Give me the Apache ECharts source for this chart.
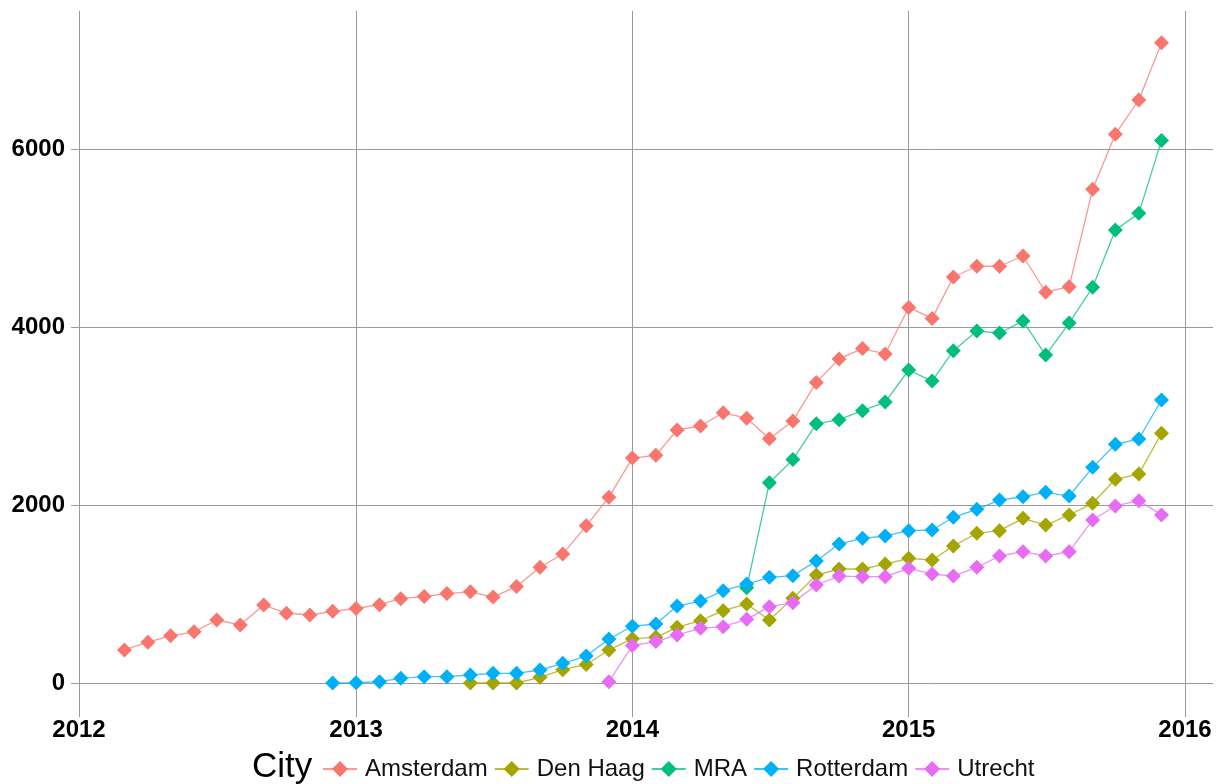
<!DOCTYPE html>
<html>
<head>
    <meta charset="utf-8">
    <title>City</title>
    <script src="https://cdn.jsdelivr.net/npm/echarts@6/dist/echarts.min.js"></script>
    <style>
        html, body { margin: 0; padding: 0; background: #fff; }
    </style>
</head>
<body>
    <div id="chart" style="width: 1221px;height: 784px;"></div>
</body>

<script>
    var months = [
        '2012-03-01','2012-04-01','2012-05-01','2012-06-01','2012-07-01','2012-08-01',
        '2012-09-01','2012-10-01','2012-11-01','2012-12-01',
        '2013-01-01','2013-02-01','2013-03-01','2013-04-01','2013-05-01','2013-06-01',
        '2013-07-01','2013-08-01','2013-09-01','2013-10-01','2013-11-01','2013-12-01',
        '2014-01-01','2014-02-01','2014-03-01','2014-04-01','2014-05-01','2014-06-01',
        '2014-07-01','2014-08-01','2014-09-01','2014-10-01','2014-11-01','2014-12-01',
        '2015-01-01','2015-02-01','2015-03-01','2015-04-01','2015-05-01','2015-06-01',
        '2015-07-01','2015-08-01','2015-09-01','2015-10-01','2015-11-01','2015-12-01'
    ];

    var amsterdam = [371, 458, 530, 575, 708, 652, 876, 785, 764, 805,
        837, 880, 948, 972, 1005, 1025, 965, 1085, 1300, 1449, 1766, 2088,
        2527, 2558, 2843, 2888, 3036, 2976, 2745, 2945, 3378, 3642, 3758, 3697,
        4220, 4097, 4562, 4683, 4683, 4798, 4391, 4453, 5549, 6167, 6551, 7193];

    var denHaag = [null, null, null, null, null, null, null, null, null, null,
        null, null, null, null, null, 0, 0, 0, 64, 150, 208, 371,
        498, 513, 626, 700, 813, 888, 708, 951, 1213, 1281, 1281, 1337,
        1401, 1382, 1539, 1682, 1712, 1850, 1775, 1888, 2019, 2289, 2348, 2805];

    var mra = [null, null, null, null, null, null, null, null, null, null,
        null, null, null, null, null, null, null, null, null, null, null, null,
        null, null, null, null, null, 1070, 2251, 2510, 2912, 2959, 3060, 3157,
        3517, 3393, 3734, 3955, 3933, 4067, 3685, 4045, 4446, 5090, 5277, 6097];

    var rotterdam = [null, null, null, null, null, null, null, null, null, 0,
        3, 15, 52, 71, 71, 90, 109, 109, 146, 221, 303, 495,
        638, 663, 865, 921, 1037, 1112, 1187, 1206, 1371, 1562, 1626, 1652,
        1712, 1719, 1862, 1951, 2056, 2093, 2142, 2101, 2423, 2682, 2742, 3180];

    var utrecht = [null, null, null, null, null, null, null, null, null, null,
        null, null, null, null, null, null, null, null, null, null, null, 15,
        420, 465, 540, 614, 633, 715, 858, 903, 1101, 1202, 1195, 1195,
        1289, 1225, 1202, 1300, 1427, 1476, 1427, 1476, 1832, 1989, 2049, 1888];

    var cities = ['Amsterdam', 'Den Haag', 'MRA', 'Rotterdam', 'Utrecht'];
    var cityValues = [amsterdam, denHaag, mra, rotterdam, utrecht];
    var cityColors = ['#F8766D', '#A3A500', '#00BF7D', '#00B0F6', '#E76BF3'];

    function pairs(values) {
        var out = [];
        values.forEach(function (v, i) {
            if (v !== null) out.push([months[i], v]);
        });
        return out;
    }

    var series = cities.map(function (name, i) {
        return {
            name: name,
            type: 'line',
            data: pairs(cityValues[i]),
            symbol: 'diamond',
            symbolSize: 15,
            color: cityColors[i],
            lineStyle: { width: 1.3, opacity: 0.75 },
            itemStyle: { opacity: 1 },
            emphasis: { disabled: true },
            clip: false
        };
    });

    var gridColor = '#9a9a9a';

    var option = {
        animation: false,
        textStyle: { fontFamily: 'Liberation Sans' },
        title: {
            text: 'City',
            left: 247,
            top: 745,
            textStyle: { fontSize: 35, fontWeight: 'normal', color: '#000', fontFamily: 'Liberation Sans' }
        },
        legend: {
            data: cities,
            left: 317,
            top: 752,
            itemWidth: 34,
            itemHeight: 20,
            itemGap: 6,
            textStyle: { fontSize: 24, color: '#111', fontFamily: 'Liberation Sans', padding: [0, 0, 0, 3] }
        },
        grid: {
            left: 79,
            right: 8,
            top: 11,
            bottom: 101,
            containLabel: false
        },
        xAxis: {
            type: 'time',
            min: '2012-01-01',
            max: '2016-02-07',
            splitNumber: 4,
            minInterval: 365 * 24 * 3600 * 1000,
            axisLine: { show: false },
            axisTick: { show: true, length: 34, lineStyle: { color: gridColor, width: 1 } },
            splitLine: { show: true, showMaxLine: false, lineStyle: { color: gridColor, width: 1 } },
            axisLabel: {
                formatter: '{yyyy}',
                margin: 35,
                fontSize: 24,
                fontWeight: 'bold',
                color: '#000',
                showMinLabel: true,
                showMaxLabel: false
            }
        },
        yAxis: {
            type: 'value',
            min: 0,
            max: 7551,
            interval: 2000,
            axisLine: { show: false },
            axisTick: { show: true, length: 8, lineStyle: { color: gridColor, width: 1 } },
            splitLine: { show: true, showMaxLine: false, lineStyle: { color: gridColor, width: 1 } },
            axisLabel: {
                margin: 14,
                fontSize: 24,
                fontWeight: 'bold',
                color: '#000',
                showMaxLabel: false,
                formatter: function (v) { return String(v); }
            }
        },
        series: series
    };

    var chart = echarts.init(document.getElementById('chart'));
    chart.setOption(option);
</script>
</html>
